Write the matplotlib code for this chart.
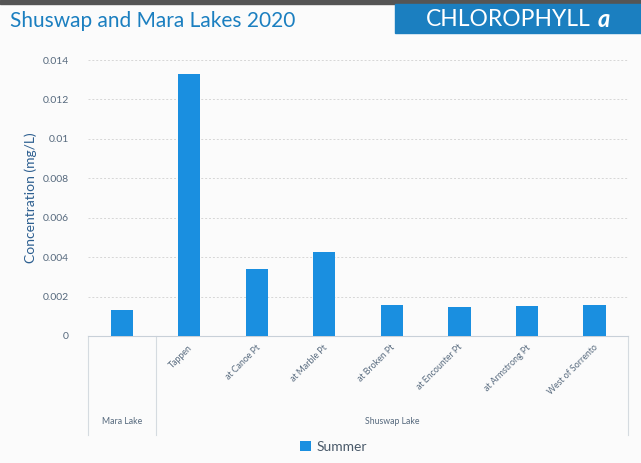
import matplotlib.pyplot as plt
from matplotlib.patches import Rectangle
import matplotlib.transforms as mtransforms

plt.rcParams['font.family'] = ['Lato', 'DejaVu Sans']

sites = ['', 'Tappen', 'at Canoe Pt', 'at Marble Pt', 'at Broken Pt',
         'at Encounter Pt', 'at Armstrong Pt', 'West of Sorrento']
summer = [0.00132, 0.0133, 0.0034, 0.00426, 0.00157, 0.00147, 0.00152, 0.00157]
groups = ['Mara Lake', 'Shuswap Lake']
group_span = [(0, 1), (1, 8)]
yticks = [0, 0.002, 0.004, 0.006, 0.008, 0.01, 0.012, 0.014]
ytick_labels = ['0', '0.002', '0.004', '0.006', '0.008', '0.01', '0.012', '0.014']

bar_color = '#1a8fe0'
text_color = '#56697d'
blue = '#1b7fc0'

fig = plt.figure(figsize=(6.41, 4.63), dpi=100)
fig.patch.set_facecolor('#fbfbfb')

# header
fig.patches.append(Rectangle((0, 0.992), 1, 0.008, transform=fig.transFigure,
                             color='#555555', zorder=0))
fig.patches.append(Rectangle((0.617, 0.928), 0.383, 0.064, transform=fig.transFigure,
                             color=blue, zorder=1))
fig.text(0.015, 0.955, 'Shuswap and Mara Lakes 2020', color=blue, fontsize=15,
         va='center', ha='left')
fig.text(0.665, 0.958, 'CHLOROPHYLL', color='white', fontsize=16.5,
         va='center', ha='left')
fig.text(0.932, 0.958, 'a', color='white', fontsize=17, fontweight='bold',
         fontstyle='italic', va='center', ha='left')

ax = fig.add_axes([0.1373, 0.2743, 0.8427, 0.5961])
ax.set_facecolor('none')
x = range(len(summer))
ax.bar(x, summer, width=0.33, color=bar_color, label='Summer', zorder=3)
ax.set_xlim(-0.5, len(summer) - 0.5)
ax.set_ylim(0, 0.014)
ax.set_yticks(yticks)
ax.set_yticklabels(ytick_labels, color=text_color, fontsize=7.5)
ax.tick_params(axis='y', length=0, pad=14)
ax.set_xticks([])
ax.yaxis.grid(True, linestyle=(0, (2, 2)), color='#d6d6d6', linewidth=0.7)
for s in ['top', 'right', 'left']:
    ax.spines[s].set_visible(False)
ax.spines['bottom'].set_color('#c8d0d8')
ax.set_ylabel('Concentration (mg/L)', color='#2d5f90', fontsize=10, labelpad=4)

trans = mtransforms.blended_transform_factory(ax.transData, ax.transAxes)
for i, s in enumerate(sites):
    ax.text(i - 0.02, -0.025, s, transform=trans, rotation=45, rotation_mode='anchor',
            ha='right', va='top', fontsize=6.3, color=text_color)
for g, (a, b) in zip(groups, group_span):
    ax.text((a + b) / 2 - 0.5, -0.31, g, transform=trans, ha='center', va='center',
            fontsize=6.3, color=text_color)
for xv in [-0.5, 0.5, len(summer) - 0.5]:
    ax.plot([xv, xv], [0, -0.36], transform=trans, color='#d5dbe0', linewidth=0.8,
            clip_on=False)

fig.legend(loc='center', bbox_to_anchor=(0.52, 0.035), frameon=False, fontsize=10,
           handlelength=0.8, handleheight=0.8, handletextpad=0.4, labelcolor='#4a5a6a')

fig.savefig('out.png', dpi=100, facecolor=fig.get_facecolor())
